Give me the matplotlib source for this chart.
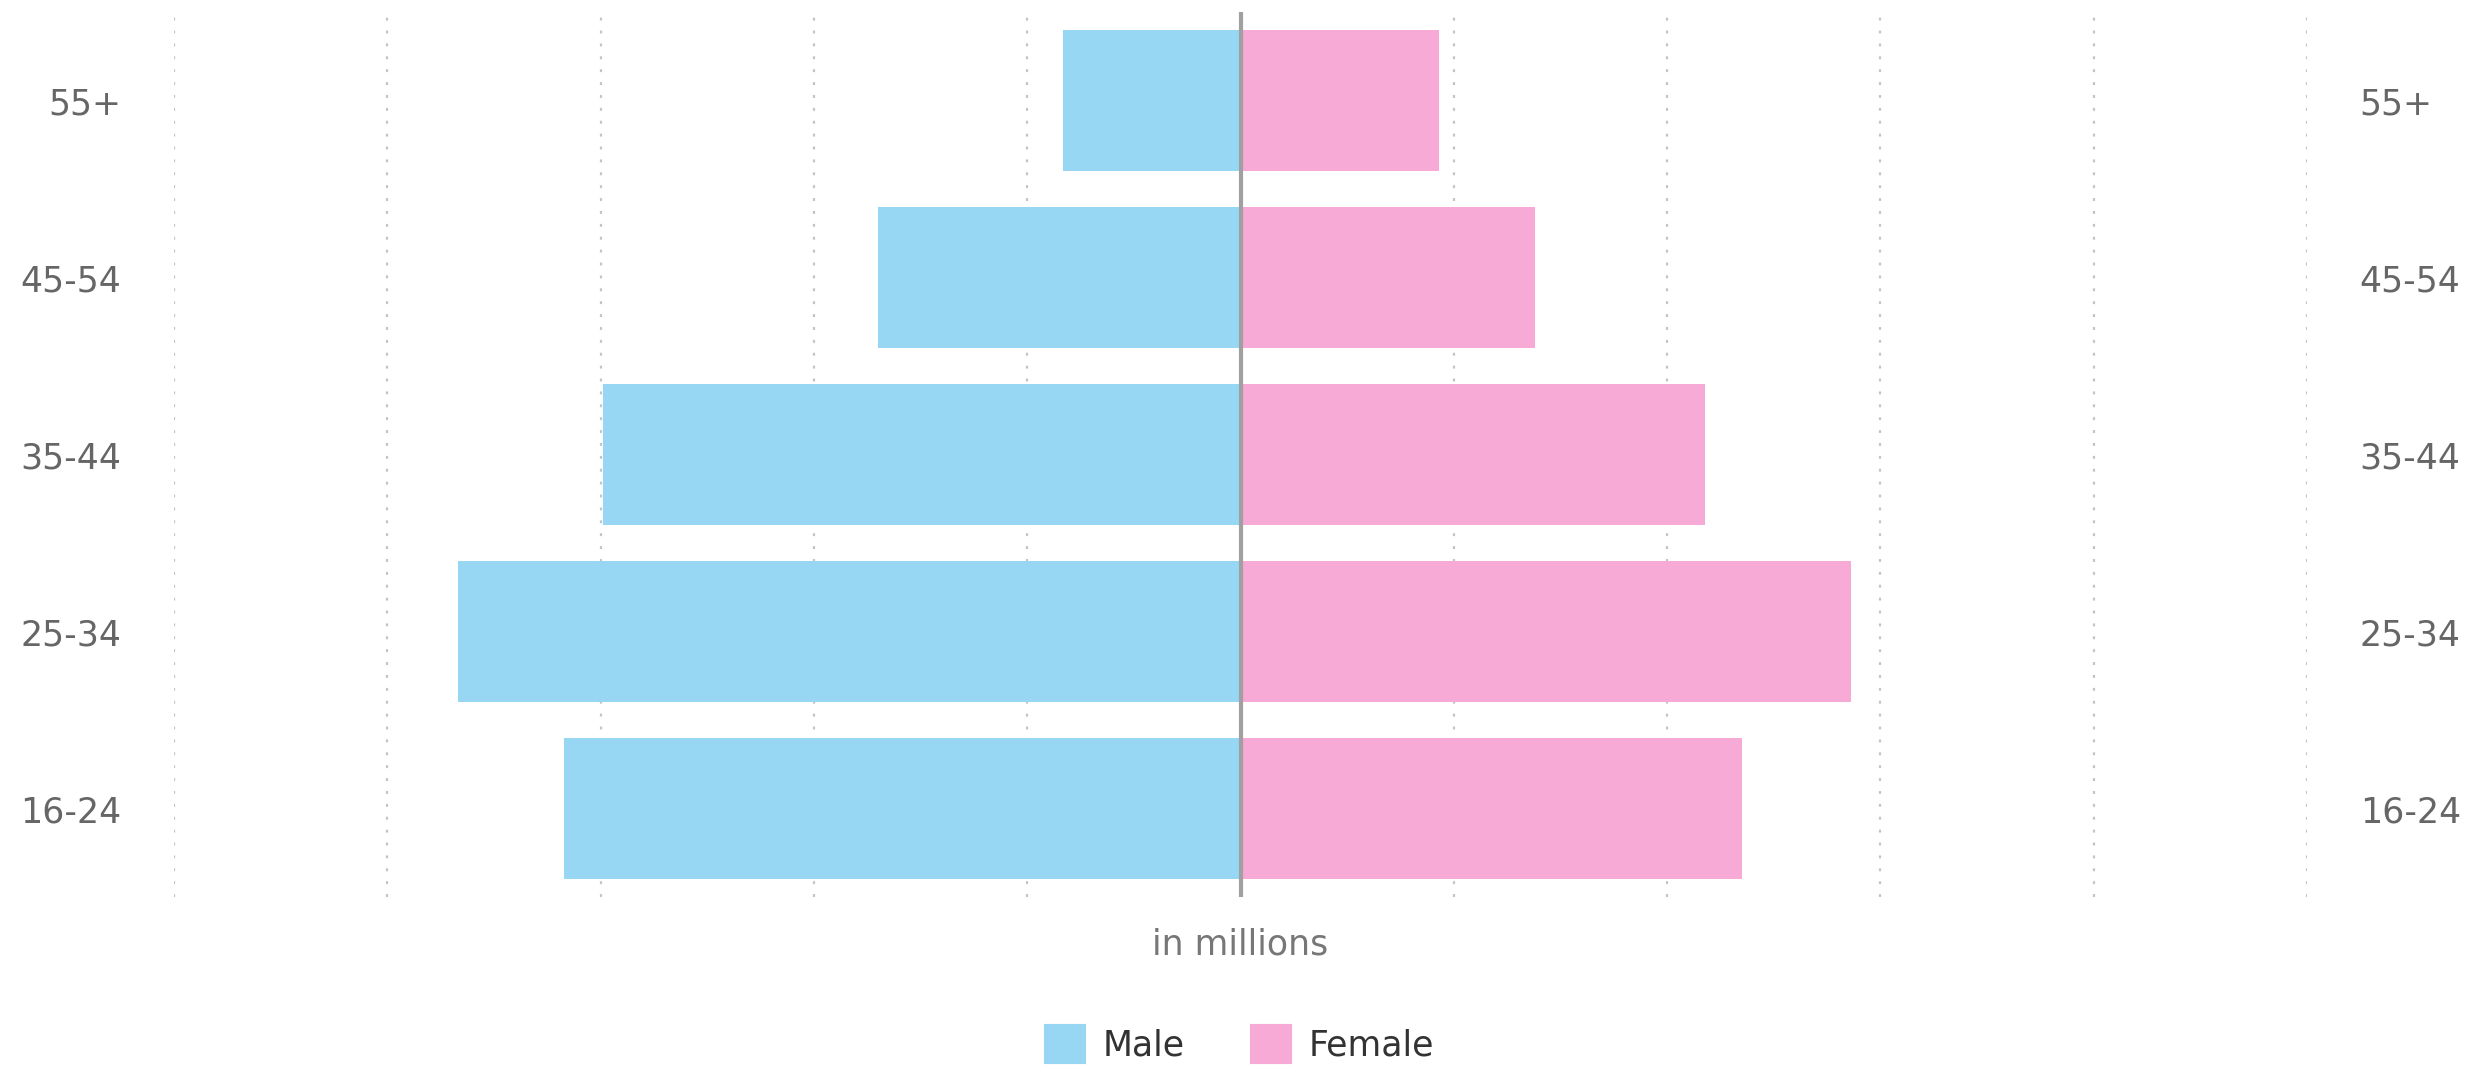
import matplotlib
matplotlib.use("Agg")
import matplotlib.pyplot as plt
from matplotlib.patches import Patch
import numpy as np

# Age groups, bottom to top
age_groups = ['16-24', '25-34', '35-44', '45-54', '55+']
male = [3.17, 3.67, 2.99, 1.70, 0.83]
female = [2.35, 2.86, 2.18, 1.38, 0.93]
grid_ticks = [-5, -4, -3, -2, -1, 1, 2, 3, 4, 5]

male_color = '#97d7f3'
female_color = '#f7aad5'

fig = plt.figure(figsize=(24.83, 10.66), dpi=100)
ax = fig.add_axes([0.0701, 0.1585, 0.859, 0.8302])

y = np.arange(len(age_groups))
ax.barh(y, -np.array(male), height=0.8, color=male_color, zorder=2)
ax.barh(y, female, height=0.8, color=female_color, zorder=2)

# dotted vertical grid
for gx in grid_ticks:
    ax.axvline(gx, color='#c4c4c4', lw=1.6, linestyle=(0, (1.3, 4.5)), zorder=1)
ax.axvline(0, color='#a0a0a0', lw=3, zorder=3)

ax.set_xlim(-5, 5)
ax.set_ylim(-0.5, 4.5)
ax.set_yticks(y)
ax.set_yticklabels(age_groups)
ax.set_xticks([])
ax.tick_params(axis='y', length=0, labelsize=25, labelcolor='#666666',
               labelleft=True, labelright=True, pad=38)
for s in ax.spines.values():
    s.set_visible(False)

ax.set_xlabel('in millions', fontsize=25, color='#777777', labelpad=22)

handles = [Patch(facecolor=male_color, edgecolor=male_color, linewidth=8, joinstyle='round', label='Male'),
           Patch(facecolor=female_color, edgecolor=female_color, linewidth=8, joinstyle='round', label='Female')]
fig.legend(handles=handles, loc='center', bbox_to_anchor=(0.5, 0.019), ncol=2, frameon=False,
           fontsize=25, labelcolor='#333333', handlelength=0.9, handleheight=0.9,
           handletextpad=0.65, columnspacing=2.0)

fig.savefig('out.png', dpi=100)
